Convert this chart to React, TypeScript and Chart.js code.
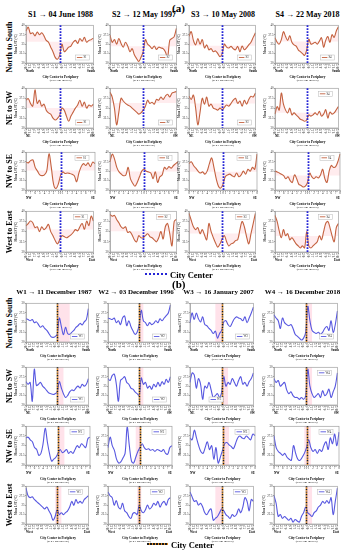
import React, { useEffect, useRef } from "react";
import { Chart, registerables } from "chart.js";
Chart.register(...registerables);

const SERIF = "'Liberation Serif', 'Times New Roman', serif";

// ---------- tick labels ----------
const distanceTicks = ["10.5","9.8","9.1","8.4","7.7","7.0","6.3","5.6","4.9","4.2","3.5","2.8","2.1","1.4","0.7","0.0","0.7","1.4","2.1","2.8","3.5","4.2","4.9","5.6","6.3","7.0","7.7","8.4","9.1","9.8","10.5"];
const nwseTicks = ["8","","7","","6","","5","","4","","3","","2","","1","0","1","","2","","3","","4","","5","","6","","7","","8"];
const summerYTicks = [30, 32.5, 35, 37.5, 40];
const winterYTicks = [20, 22.5, 25, 27.5, 30];

// ---------- text ----------
const rowNames = ["North to South", "NE to SW", "NW to SE", "West to East"];
const endpointPairs = [["North", "South"], ["NE", "SW"], ["NW", "SE"], ["West", "East"]];
const summerTitles = ["S1 → 04 June 1988", "S2 → 12 May 1997", "S3 → 10 May 2008", "S4 → 22 May 2018"];
const winterTitles = ["W1 → 11 December 1987", "W2 → 03 December 1996", "W3 → 16 January 2007", "W4 → 16 December 2018"];
const summerNames = ["S1", "S2", "S3", "S4"];
const winterNames = ["W1", "W2", "W3", "W4"];

// ---------- (a) summer mean LST (°C) ----------
const s1NorthSouth = [38.5,39.5,37.8,38,37.2,38.2,37.5,38,37.2,36,35.5,34.2,33,31.5,31,32,35,33,33.5,34.2,34.5,35.5,36,35.2,36.5,35.8,36.8,35.5,36,36.2,36.6];
const s2NorthSouth = [37.4,35.5,36.2,35,36.5,35.2,34.2,35.5,34.5,33,33.8,32.2,31.2,30.4,31.5,33,36.2,35,34.5,33.8,34.5,33.6,34.2,34,33.8,33,31.5,36,36.5,37,39.2];
const s3NorthSouth = [37.1,38.3,36,34.8,36.5,35,36.2,34,34.8,33.5,33.8,33,33.2,32.5,31.7,32.5,35,34.2,34,34.4,33.8,33.5,34.4,33,34.5,33.5,34,34.8,35.5,36.8,38];
const s4NorthSouth = [36.7,35.5,35,36.2,38.3,37,36,37.2,35.5,34.8,34.5,33.5,33,32.5,32,33.5,36.3,35,35.2,35.5,35,35.8,36.7,34.2,36,37,35.5,37.5,36.8,38.5,39.6];

const s1NeSw = [37,37.4,36.2,35.5,39.6,36.2,37,35.5,36,34.5,33.8,33.5,32.5,32,32.4,33.2,35,34.5,33,31.7,33,34,35,35.8,37,35.5,36.5,35,35.8,35.5,36];
const s2NeSw = [39,37.8,35,30.8,34,37.5,36.8,36.2,35.8,35.5,35,34.5,34,33.5,33.8,34.5,35.5,37,36.2,36.5,36,37.2,37,37.8,37.2,38,38.5,37.8,38.8,39,39.2];
const s3NeSw = [38,37.2,38.3,35,30.8,34,37.5,36,37.8,35.5,36,35,34.8,34.5,35,34.6,35.2,35.8,35.5,36.2,37,37.5,36.2,36.8,35.5,37,36,37.2,38,37.8,38.8];
const s4NeSw = [33.5,35.4,34.5,38.8,36,34.5,33.8,35,33.3,33.8,33.3,32.8,32.2,32,31.7,32,33.3,33,33.3,33.8,33.3,34.2,33,33.5,34.6,32.5,34,33.5,33.8,34.6,35.4];

const s1NwSe = [37.4,37.2,37.8,38,36,35,34,33.8,34,35,39.6,36,31.5,30.4,31.5,33.8,34.8,34.4,34.5,34.4,34.2,33.8,32.2,34.5,36.2,37,36.5,37.2,36.2,37.4,37];
const s2NwSe = [37.5,39.5,38.2,36,34.8,34.2,33.8,34,36,33,31.8,31,32,33.5,35,35.5,35,34.8,34.5,33,34.8,32,33.5,34,36,35.5,36.2,35.8,36.5,37,37.5];
const s3NwSe = [37,37.5,36.5,35.8,35,34.5,34.8,34.2,35,37,38.5,36,33,31,30.5,31.5,33.5,34,34.2,33.8,33.5,34.5,33.5,34,35,34.2,35.5,35,36,35.5,39.5];
const s4NwSe = [35,34.8,34.5,34.2,33.8,33,33.5,32.5,32,34,33,31.5,31.2,30.8,31,32,34.5,33.5,33,33.5,33.2,34,35.5,33,32,35,36.5,36,36.2,37.5,39.5];

const s1WestEast = [36.4,37,37.6,37.2,36,36.2,35,36.2,35.5,36,36.8,35,34,32.8,32,33,34,33.8,33.5,33.8,34.2,34.8,35.5,35.2,36.2,37,35.6,37.6,36.5,38.8,37.6];
const s2WestEast = [39.2,38.8,39,38,37.2,36.2,35.8,36.2,34.8,35,34.2,33,32.5,34,33.5,33.5,34,34.5,33.8,33.5,33,32.5,33.5,35,33.2,36.2,37,34.5,31.5,37.5,38];
const s3WestEast = [39.5,37.8,36.2,35.5,36,34.5,35.5,34.2,33,37,35,33.5,32.2,31.2,32,33.2,34,32.5,31.5,32,32.2,32.8,33,35.5,37.5,36.2,33.8,32,34.5,37,39.5];
const s4WestEast = [39,37.5,35.2,33.5,35.5,34,34.5,33,33.5,32.8,32,31.5,31,31.5,31,35,31.5,31,31.5,32,32.5,34,33,35,37,37.5,36,34,32.5,36,37];

// ---------- (b) winter mean LST (°C) ----------
const w1NorthSouth = [26,25.8,25.5,25.8,25,25.2,24.5,23.8,24.2,23.5,23,22.2,21.4,21.2,21.4,22,26.2,24,21.9,23.8,22.2,22,22.5,23,23.8,24.2,24.8,24.4,25.2,25.8,28.6];
const w2NorthSouth = [26.2,26,25.8,26.2,25,25.5,24.5,26.2,26.7,24.2,25.5,24,22.9,22,22.5,24.5,28.2,25.5,25,24.2,25,24.5,24.8,25.5,25,26,25.5,26.2,26.8,27.5,29.6];
const w3NorthSouth = [25,27.5,25.8,27.5,26,25.2,26.5,24.5,24.2,23.5,23,22.2,22.8,21,22.2,23,25.2,25.5,24.5,24,25,26,26.5,26.2,26,25.5,26.5,25,26.2,27.5,29];
const w4NorthSouth = [27,26.2,25.5,23.5,26.2,25,24.5,24.2,24.5,23.5,22,21.5,21,20.5,21,22.5,29.2,25.5,23,22.5,22.2,22.5,22,22.5,23.5,24,23,25.5,22.5,24.5,28];

const w1NeSw = [26.2,25.5,26,21,29.5,25.2,25.5,26,25,24.5,23.8,23.2,23,22.8,23,23.5,26.2,24.5,23,22,22.5,23.5,24,23.8,24.5,25,24.5,25.5,25,25.5,27];
const w2NeSw = [27,26.5,27.8,28.2,25.5,21,26.5,27,27.5,26,25.5,24.5,24.2,23.5,23,22.5,27.2,25.5,26,24.5,25,24.2,25.5,24.8,26,25,26.2,25.5,26.8,26,27.5];
const w3NeSw = [26,28.5,28,24.5,27,25.5,21.5,25,24.5,26,24,22,22.5,23,22,23.5,27.5,25,26,25.5,27,26,25,26.5,27.5,25.5,26,25,26.2,27,28.5];
const w4NeSw = [27,26,26.5,25,25.5,26,24,23,23.5,22.5,22,22,21.5,22,21.5,22.5,29.5,25,23,22,22.5,23,22,23.8,22.5,23,24.2,22,23.5,25,28.5];

const w1NwSe = [27,27.2,26.5,26,24.5,24,22.5,23,25.5,29.5,26,23,21,21.5,22,23,24,23.2,23.5,24,23,23.5,23,24,25,24.5,25.5,25,24.5,26.8,27.2];
const w2NwSe = [24.5,27.2,25,23.8,21.5,20.5,20.8,21.8,23,29.8,25,21,20.5,22,23.5,24.5,25.5,24.5,24,24.2,23.8,24,23.5,24,23.8,23.5,24,23,22.8,24.5,25];
const w3NwSe = [27,26.5,29,27,25,23.5,23,24.5,26,24,25,21.5,24.5,20.5,22,23.8,25.5,25.8,25.2,24.8,24.2,25.5,27,27.5,27,26.8,27.5,27,26.5,28,27.6];
const w4NwSe = [27.5,24.5,23.5,23,22.5,23,22,21.5,21.2,25,23,21.5,21.2,22,23,24.5,26.5,24.5,23.5,24,23,24,23.5,25,26,24,27,25.5,28,25,28.5];

const w1WestEast = [29.5,27.5,27,27.2,26.5,26,25.5,25,24.5,24,24.5,23.5,22.5,21,22,23.8,22.5,23,22.5,23,23.5,24.5,26,25,26.5,25.5,26,25.5,26.5,27,27.5];
const w2WestEast = [28.5,27.5,27,25,26.2,24.5,24,25.5,23.5,23,22,21.5,22.8,23,22.5,25,23.5,23,23.8,25,24,24.5,25.5,25,26,24.5,25.5,26,25,26.5,27];
const w3WestEast = [28.5,27.2,26,26.2,25,25.5,24.5,23,22.5,23.5,24,21,21.5,22,23,24,23.5,22.5,22,21.5,22.5,22,22.5,24,23,24.5,27,26,23.5,26.5,26];
const w4WestEast = [27.5,25.5,22,22.5,21.5,22,21.5,21,21.5,20.5,21.2,20.8,20.5,22,23,24.5,23,22.5,22,23,23.5,24.5,25,26,25.5,26.2,25.5,27,22.5,26,29.5];

const summerSeries = [
  [s1NorthSouth, s2NorthSouth, s3NorthSouth, s4NorthSouth],
  [s1NeSw, s2NeSw, s3NeSw, s4NeSw],
  [s1NwSe, s2NwSe, s3NwSe, s4NwSe],
  [s1WestEast, s2WestEast, s3WestEast, s4WestEast],
];
const winterSeries = [
  [w1NorthSouth, w2NorthSouth, w3NorthSouth, w4NorthSouth],
  [w1NeSw, w2NeSw, w3NeSw, w4NeSw],
  [w1NwSe, w2NwSe, w3NwSe, w4NwSe],
  [w1WestEast, w2WestEast, w3WestEast, w4WestEast],
];

// city-centre index and shaded band (category index) per winter panel
const cityCenterIndex = 15;
const winterBands = [
  [[15, 21], [15, 17], [12, 15], [15, 18]],
  [[15, 18], [15, 17], [15, 18], [15, 18]],
  [[15, 18], [13, 15], [15, 18], [14, 17]],
  [[14, 17], [14, 16], [12, 15], [15, 18]],
];
const summerLegendCorner = [["br","br","br","br"],["br","br","br","tr"],["tr","tr","tr","tr"],["tr","tr","tr","tr"]];
const winterLegendCorner = [["br","br","br","br"],["br","br","bl","tr"],["tr","tr","tr","tr"],["tr","tr","tr","tr"]];

// ---------- layout ----------
const aCols = [[26, 95], [110, 178], [189, 257], [275, 340]];
const bCols = [[26, 90], [108, 172], [190, 255], [274, 339]];
const aRows = [[25, 63], [88, 128], [152, 190], [211, 252]];
const bRows = [[303, 342], [367, 405], [426, 465], [486, 524]];
const PAD_L = 12, PAD_T = 2, PAD_R = 2, PAD_B = 7;

const SUMMER_COLOR = "rgb(196,98,64)";
const WINTER_COLOR = "rgb(88,88,224)";

type PanelProps = {
  left: number; top: number; right: number; bottom: number;
  values: number[]; name: string; summer: boolean; corner: string;
  band: number[] | null; horizontalTicks: boolean;
};

function Panel(p: PanelProps) {
  const ref = useRef<HTMLCanvasElement>(null);
  const w = p.right - p.left + PAD_L + PAD_R;
  const h = p.bottom - p.top + PAD_T + PAD_B;
  useEffect(() => {
    const color = p.summer ? SUMMER_COLOR : WINTER_COLOR;
    const mean = p.values.reduce((a, b) => a + b, 0) / p.values.length;
    const overlay = {
      id: "overlay",
      beforeDatasetsDraw(chart: any) {
        const { ctx, chartArea: ca, scales } = chart;
        if (p.band) {
          const x1 = scales.x.getPixelForValue(p.band[0]);
          const x2 = scales.x.getPixelForValue(p.band[1]);
          ctx.save();
          ctx.fillStyle = "rgba(255,160,185,0.3)";
          ctx.fillRect(x1, ca.top, x2 - x1, ca.bottom - ca.top);
          ctx.restore();
        }
      },
      afterDatasetsDraw(chart: any) {
        const { ctx, chartArea: ca, scales } = chart;
        ctx.save();
        ctx.strokeStyle = "#a0a0a0";
        ctx.lineWidth = 0.7;
        ctx.strokeRect(ca.left, ca.top, ca.right - ca.left, ca.bottom - ca.top);
        const cx = Math.round(scales.x.getPixelForValue(cityCenterIndex)) + 0.5;
        if (p.summer) {
          ctx.strokeStyle = "#2424d6";
          ctx.lineWidth = 1.8;
          ctx.setLineDash([1.8, 1.2]);
          ctx.beginPath(); ctx.moveTo(cx, ca.top); ctx.lineTo(cx, ca.bottom); ctx.stroke();
        } else {
          ctx.lineWidth = 1.6;
          ctx.setLineDash([1.3, 1.3]);
          ctx.strokeStyle = "#1a1a1a";
          ctx.beginPath(); ctx.moveTo(cx, ca.top); ctx.lineTo(cx, ca.bottom); ctx.stroke();
          ctx.strokeStyle = "#e0891f";
          ctx.lineDashOffset = 1.3;
          ctx.beginPath(); ctx.moveTo(cx, ca.top); ctx.lineTo(cx, ca.bottom); ctx.stroke();
        }
        ctx.setLineDash([]);
        // legend box
        const bw = 14, bh = 5;
        let bx = ca.right - bw - 4, by = ca.bottom - bh - 3;
        if (p.corner === "tr") { bx = ca.right - bw - 6; by = ca.top + 3; }
        if (p.corner === "bl") { bx = ca.left + (ca.right - ca.left) * 0.3; by = ca.bottom - bh - 3; }
        ctx.fillStyle = "#fff";
        ctx.fillRect(bx, by, bw, bh);
        ctx.strokeStyle = "#b8b8b8";
        ctx.lineWidth = 0.5;
        ctx.strokeRect(bx, by, bw, bh);
        ctx.strokeStyle = color;
        ctx.lineWidth = 0.9;
        ctx.beginPath(); ctx.moveTo(bx + 1.5, by + bh / 2); ctx.lineTo(bx + 7, by + bh / 2); ctx.stroke();
        ctx.fillStyle = "#333";
        ctx.font = `3px ${SERIF}`;
        ctx.textBaseline = "middle";
        ctx.fillText(p.name, bx + 8, by + bh / 2);
        ctx.restore();
      },
    };
    const labels = p.horizontalTicks ? nwseTicks : distanceTicks;
    const chart = new Chart(ref.current as HTMLCanvasElement, {
      type: "line",
      data: {
        labels,
        datasets: [{
          data: p.values,
          borderColor: color,
          borderWidth: 1.1,
          pointRadius: 0,
          tension: 0.35,
          fill: p.summer ? { value: mean } : false,
          backgroundColor: "rgba(255,150,160,0.18)",
        }],
      },
      options: {
        animation: false,
        responsive: false,
        devicePixelRatio: 1,
        layout: { padding: { top: PAD_T, right: PAD_R, left: 0, bottom: 0 } },
        plugins: { legend: { display: false }, tooltip: { enabled: false } },
        scales: {
          x: {
            ticks: {
              autoSkip: false,
              maxRotation: p.horizontalTicks ? 0 : 90,
              minRotation: p.horizontalTicks ? 0 : 90,
              padding: 0,
              color: "#333",
              font: { size: 3, family: SERIF },
              callback: (_v: any, i: number) => p.horizontalTicks ? labels[i] : (i % 2 === 0 ? labels[i] : ""),
            },
            grid: { drawOnChartArea: false, drawTicks: true, tickLength: 1.5, color: "#999" },
            border: { display: true, color: "#999", width: 0.7 },
            afterFit: (s: any) => { s.height = PAD_B; },
          },
          y: {
            min: p.summer ? 30 : 20,
            max: p.summer ? 40 : 30,
            afterBuildTicks: (s: any) => { s.ticks = (p.summer ? summerYTicks : winterYTicks).map((v) => ({ value: v })); },
            ticks: { padding: 0.5, color: "#333", font: { size: 3, family: SERIF }, callback: (v: any) => String(v) },
            title: { display: true, text: "Mean LST (°C)", padding: 0, color: "#333", font: { size: 3, weight: "bold", family: SERIF } },
            grid: { drawOnChartArea: false, drawTicks: true, tickLength: 1, color: "#999" },
            border: { display: true, color: "#999", width: 0.7 },
            afterFit: (s: any) => { s.width = PAD_L; },
          },
        },
      } as any,
      plugins: [overlay],
    });
    return () => chart.destroy();
  }, []);
  return (
    <canvas
      ref={ref}
      width={w}
      height={h}
      style={{ position: "absolute", left: p.left - PAD_L, top: p.top - PAD_T, width: w, height: h }}
    />
  );
}

function T(props: { x: number; y: number; size: number; bold?: boolean; align?: string; rotate?: boolean; children: any }) {
  const tx = props.align === "left" ? "0" : props.align === "right" ? "-100%" : "-50%";
  return (
    <div
      style={{
        position: "absolute", left: props.x, top: props.y,
        transform: `translate(${tx}, -50%)${props.rotate ? " rotate(-90deg)" : ""}`,
        fontSize: props.size, fontWeight: props.bold ? 700 : 400, fontFamily: SERIF,
        whiteSpace: "nowrap", lineHeight: 1, color: "#000",
      }}
    >
      {props.children}
    </div>
  );
}

function Section(props: { summer: boolean }) {
  const cols = props.summer ? aCols : bCols;
  const rows = props.summer ? aRows : bRows;
  const series = props.summer ? summerSeries : winterSeries;
  const titles = props.summer ? summerTitles : winterTitles;
  const names = props.summer ? summerNames : winterNames;
  const corners = props.summer ? summerLegendCorner : winterLegendCorner;
  const titleY = props.summer ? 14.5 : 292;
  const titleSize = props.summer ? 8 : 7;
  const els: any[] = [];
  cols.forEach((c, ci) => {
    els.push(<T key={`t${ci}`} x={(c[0] + c[1]) / 2 - (props.summer ? 0 : 4)} y={titleY} size={titleSize} bold>{titles[ci]}</T>);
  });
  rows.forEach((r, ri) => {
    els.push(<T key={`r${ri}`} x={10} y={(r[0] + r[1]) / 2 + (props.summer && ri === 0 ? 3 : 0)} size={8} bold rotate>{rowNames[ri]}</T>);
    cols.forEach((c, ci) => {
      els.push(
        <Panel
          key={`p${ri}-${ci}`}
          left={c[0]} right={c[1]} top={r[0]} bottom={r[1]}
          values={series[ri][ci]} name={names[ci]} summer={props.summer}
          corner={corners[ri][ci]}
          band={props.summer ? null : winterBands[ri][ci]}
          horizontalTicks={ri === 2}
        />
      );
      const mid = (c[0] + c[1]) / 2;
      els.push(<T key={`e1${ri}-${ci}`} x={c[0]} y={r[1] + 9} size={3.2} bold align="left">{endpointPairs[ri][0]}</T>);
      els.push(<T key={`e2${ri}-${ci}`} x={c[1]} y={r[1] + 9} size={3.2} bold align="right">{endpointPairs[ri][1]}</T>);
      els.push(<T key={`c${ri}-${ci}`} x={mid} y={r[1] + 15} size={3.4} bold>City Center to Periphery</T>);
      els.push(<T key={`i${ri}-${ci}`} x={mid} y={r[1] + 18.3} size={2.8}>(at 0.7 km Interval)</T>);
    });
  });
  return <>{els}</>;
}

export default function App() {
  return (
    <div style={{ position: "absolute", left: 0, top: 0, width: 344, height: 550, overflow: "hidden", background: "#fff" }}>
      <T x={172} y={8} size={11} bold align="left">(a)</T>
      <Section summer={true} />
      <div style={{ position: "absolute", left: 145, top: 273, width: 22, height: 0, borderTop: "2px dotted #2424d6" }} />
      <T x={170} y={274.5} size={8.5} bold align="left">City Center</T>
      <T x={172} y={284} size={11} bold align="left">(b)</T>
      <Section summer={false} />
      <div style={{ position: "absolute", left: 147, top: 543, width: 21, height: 2, background: "repeating-linear-gradient(90deg, #1a1a1a 0 1.5px, #e0891f 1.5px 3px)" }} />
      <T x={171} y={544.5} size={8.5} bold align="left">City Center</T>
    </div>
  );
}
